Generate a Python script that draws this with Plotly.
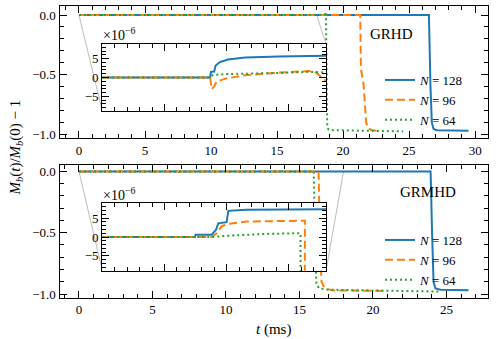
import plotly.graph_objects as go

# ---------------- data ----------------
# GRHD (top panel), t in ms, value = M_b(t)/M_b(0) - 1
grhd_t_128 = [0, 26.5, 26.62, 26.72, 26.85, 27.1, 29.5]
grhd_v_128 = [0, 0, -0.6, -0.9, -0.955, -0.965, -0.97]
grhd_t_96 = [0, 21.3, 21.35, 21.55, 21.75, 21.9, 22.2, 22.55]
grhd_v_96 = [0, 0, -0.45, -0.58, -0.9, -0.95, -0.965, -0.97]
grhd_t_64 = [0, 18.6, 18.7, 18.75, 18.8, 18.9, 19.2, 24.55]
grhd_v_64 = [0, 0, 0.025, -0.6, -0.93, -0.96, -0.965, -0.975]

# GRHD inset (units of 1e-6)
grhd_in_t_128 = [0, 8.68, 8.74, 9.0, 9.12, 9.47, 10.1, 11.5, 14.2, 18]
grhd_in_v_128 = [0, 0, 1.5, 1.6, 3.2, 4.1, 4.8, 5.3, 5.6, 5.8]
grhd_in_t_96 = [0, 8.68, 8.8, 9.0, 9.2, 9.9, 11.5, 14.2, 16.6, 17.1, 17.8, 18]
grhd_in_v_96 = [0, 0, -3.1, -2.4, -1.1, -0.3, 0.6, 1.3, 1.7, 1.5, -0.3, -1.0]
grhd_in_t_64 = [0, 8.68, 8.9, 10, 14.2, 16.6, 17.5, 18]
grhd_in_v_64 = [0, 0, 0.7, 0.9, 1.2, 1.5, 1.4, 1.3]

# GRMHD (bottom panel)
grmhd_t_128 = [0, 23.92, 24.02, 24.12, 24.25, 24.6, 26.5]
grmhd_v_128 = [0, 0, -0.5, -0.9, -0.955, -0.965, -0.97]
grmhd_t_96 = [0, 16.3, 16.4, 16.5, 16.7, 17.2, 20.7]
grmhd_v_96 = [0, 0, -0.6, -0.9, -0.95, -0.97, -0.975]
grmhd_t_64 = [0, 15.97, 16.05, 16.15, 16.35, 17.0, 24.5]
grmhd_v_64 = [0, 0, -0.5, -0.92, -0.955, -0.965, -0.98]

# GRMHD inset (units of 1e-6)
grmhd_in_t_128 = [0, 7.46, 7.5, 8.8, 9.15, 9.33, 10.0, 10.14, 11.6, 18]
grmhd_in_v_128 = [0, 0, 0.6, 0.6, 1.9, 3.6, 3.9, 6.9, 7.2, 7.3]
grmhd_in_t_96 = [0, 8.8, 9.2, 9.6, 10.0, 11.6, 16.2, 16.3, 16.3]
grmhd_in_v_96 = [0, 0, 1.0, 2.8, 3.4, 4.1, 4.3, 4.3, -20]
grmhd_in_t_64 = [0, 8.8, 10.0, 12.95, 15.8, 15.95, 15.95]
grmhd_in_v_64 = [0, 0, 0.3, 0.8, 1.0, 1.0, -20]

labels = ["<i>N</i> = 128", "<i>N</i> = 96", "<i>N</i> = 64"]
colors = ["#1f77b4", "#ff7f0e", "#2ca02c"]
dashes = ["solid", "8px,4px", "2px,3px"]

# ---------------- layout geometry ----------------
W, H = 498, 339
FONT = "Liberation Serif"


def fx(p):
    return p / W


def fy(p):
    return 1 - p / H


MAIN_X = [fx(59.5), fx(488)]
TOP_Y = [fy(138.3), fy(5.7)]
BOT_Y = [fy(297.7), fy(165)]
INS_X = [fx(102.3), fx(326)]
TOP_INS_Y = [fy(111), fy(44)]
BOT_INS_Y = [fy(270.7), fy(203.3)]

TOP_XR = [-1.475, 30.975]
BOT_XR = [-1.325, 27.825]
TOP_YR = [-1.033, 0.078]
BOT_YR = [-1.03, 0.052]
INS_XR = [0, 18]
INS_YR = [-8.9, 8.9]

fig = go.Figure()

series = [
    ("x", "y", "legend", [(grhd_t_128, grhd_v_128), (grhd_t_96, grhd_v_96), (grhd_t_64, grhd_v_64)], True),
    ("x3", "y3", None, [(grhd_in_t_128, grhd_in_v_128), (grhd_in_t_96, grhd_in_v_96), (grhd_in_t_64, grhd_in_v_64)], False),
    ("x2", "y2", "legend2", [(grmhd_t_128, grmhd_v_128), (grmhd_t_96, grmhd_v_96), (grmhd_t_64, grmhd_v_64)], True),
    ("x4", "y4", None, [(grmhd_in_t_128, grmhd_in_v_128), (grmhd_in_t_96, grmhd_in_v_96), (grmhd_in_t_64, grmhd_in_v_64)], False),
]
for xa, ya, leg, data, show in series:
    for i, (t, v) in enumerate(data):
        kw = dict(x=t, y=v, mode="lines", xaxis=xa, yaxis=ya, name=labels[i],
                  line=dict(color=colors[i], width=2, dash=dashes[i]), showlegend=show,
                  hoverinfo="skip")
        if leg:
            kw["legend"] = leg
        fig.add_trace(go.Scatter(**kw))

tickfont = dict(family=FONT, size=13, color="black")


def axis(domain, anchor, rng, dtick, mdtick, labels_on=True, fmt=None, tickvals=None, ticktext=None):
    d = dict(domain=domain, anchor=anchor, range=rng, showline=True, linecolor="black",
             linewidth=1.2, mirror="allticks", ticks="inside", ticklen=7, tickwidth=1,
             tickcolor="black", showgrid=False, zeroline=False, tick0=0, dtick=dtick,
             automargin=False, showticklabels=labels_on, tickfont=tickfont,
             minor=dict(ticks="inside", ticklen=4, tickwidth=1, tickcolor="black",
                        dtick=mdtick, tick0=0, showgrid=False))
    if fmt:
        d["tickformat"] = fmt
    if tickvals is not None:
        d["tickmode"] = "array"
        d["tickvals"] = tickvals
        d["ticktext"] = ticktext
    return d


def to_paper(t, v, xr, yr, xd, yd):
    px = xd[0] + (t - xr[0]) / (xr[1] - xr[0]) * (xd[1] - xd[0])
    py = yd[0] + (v - yr[0]) / (yr[1] - yr[0]) * (yd[1] - yd[0])
    return px, py


gray = dict(color="#bdbdbd", width=1)
shapes = []
# top connectors
p0 = to_paper(INS_XR[0], 0, TOP_XR, TOP_YR, MAIN_X, TOP_Y)
p1 = to_paper(INS_XR[1], 0, TOP_XR, TOP_YR, MAIN_X, TOP_Y)
shapes.append(dict(type="line", xref="paper", yref="paper", x0=p0[0], y0=p0[1],
                   x1=INS_X[0], y1=TOP_INS_Y[0], line=gray, layer="below"))
shapes.append(dict(type="line", xref="paper", yref="paper", x0=p1[0], y0=p1[1],
                   x1=INS_X[1], y1=TOP_INS_Y[1], line=gray, layer="below"))
# bottom connectors
q0 = to_paper(INS_XR[0], 0, BOT_XR, BOT_YR, MAIN_X, BOT_Y)
q1 = to_paper(INS_XR[1], 0, BOT_XR, BOT_YR, MAIN_X, BOT_Y)
shapes.append(dict(type="line", xref="paper", yref="paper", x0=q0[0], y0=q0[1],
                   x1=INS_X[0], y1=BOT_INS_Y[0], line=gray, layer="below"))
shapes.append(dict(type="line", xref="paper", yref="paper", x0=q1[0], y0=q1[1],
                   x1=INS_X[1], y1=BOT_INS_Y[0], line=gray, layer="below"))

txt = dict(family=FONT, size=15, color="black")
expo = dict(family=FONT, size=14, color="black")
annotations = [
    dict(text="GRHD", x=fx(391), y=fy(34.3), xref="paper", yref="paper", showarrow=False,
         font=txt, xanchor="center", yanchor="middle"),
    dict(text="GRMHD", x=fx(428), y=fy(191.7), xref="paper", yref="paper", showarrow=False,
         font=txt, xanchor="center", yanchor="middle"),
    dict(text="×10<sup>−6</sup>", x=fx(101), y=fy(34), xref="paper", yref="paper",
         showarrow=False, font=expo, xanchor="left", yanchor="middle"),
    dict(text="×10<sup>−6</sup>", x=fx(101), y=fy(194), xref="paper", yref="paper",
         showarrow=False, font=expo, xanchor="left", yanchor="middle"),
    dict(text="<i>t</i> (ms)", x=fx(273.75), y=fy(329), xref="paper", yref="paper",
         showarrow=False, font=txt, xanchor="center", yanchor="middle"),
    dict(text="<i>M</i><sub><i>b</i></sub>(<i>t</i>)/<i>M</i><sub><i>b</i></sub>(0) − 1",
         x=fx(15), y=fy(147.5), xref="paper", yref="paper", showarrow=False, font=txt,
         textangle=-90, xanchor="center", yanchor="middle"),
]

legfont = dict(family=FONT, size=13, color="black")
fig.update_layout(
    template="none",
    font=dict(family=FONT, size=13, color="black"),
    width=W, height=H, margin=dict(l=0, r=0, t=0, b=0, autoexpand=False),
    paper_bgcolor="white", plot_bgcolor="white",
    xaxis=axis(MAIN_X, "y", TOP_XR, 5, 1),
    yaxis=axis(TOP_Y, "x", TOP_YR, 0.5, 0.1, fmt=".1f"),
    xaxis2=axis(MAIN_X, "y2", BOT_XR, 5, 1),
    yaxis2=axis(BOT_Y, "x2", BOT_YR, 0.5, 0.1, fmt=".1f"),
    xaxis3=axis(INS_X, "y3", INS_XR, 5, 1, labels_on=False),
    yaxis3=axis(TOP_INS_Y, "x3", INS_YR, 5, 1, tickvals=[-5, 0, 5], ticktext=["−5", "0", "5"]),
    xaxis4=axis(INS_X, "y4", INS_XR, 5, 1, labels_on=False),
    yaxis4=axis(BOT_INS_Y, "x4", INS_YR, 5, 1, tickvals=[-5, 0, 5], ticktext=["−5", "0", "5"]),
    legend=dict(x=fx(380), y=fy(65), xanchor="left", yanchor="top", bgcolor="rgba(0,0,0,0)",
                borderwidth=0, font=legfont),
    legend2=dict(x=fx(380), y=fy(225), xanchor="left", yanchor="top", bgcolor="rgba(0,0,0,0)",
                 borderwidth=0, font=legfont),
    shapes=shapes,
    annotations=annotations,
    showlegend=True,
)

fig.write_html("out.html", config={"displayModeBar": False},
               post_script="document.body.style.margin='0';document.body.style.overflow='hidden';")
